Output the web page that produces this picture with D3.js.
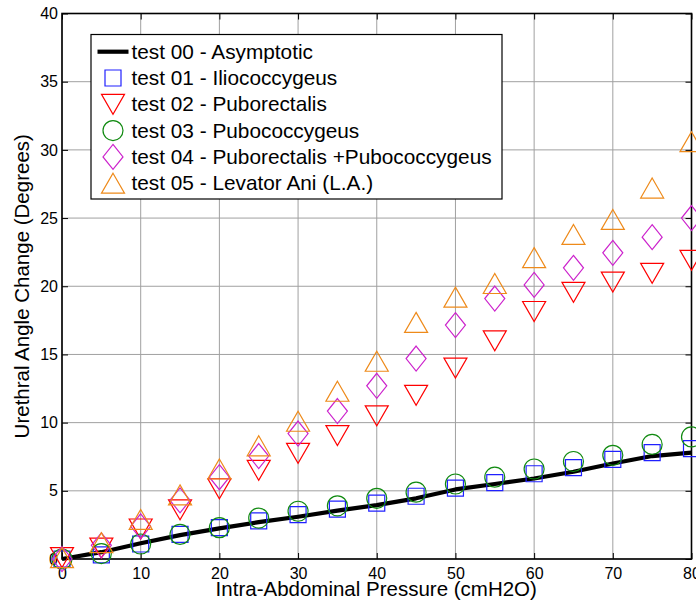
<!DOCTYPE html>
<html><head><meta charset="utf-8">
<script src="https://cdn.jsdelivr.net/npm/d3@7"></script>
<style>
body{margin:0;background:#fff}
svg{display:block}
text{font-family:"Liberation Sans",Arial,Helvetica,sans-serif;fill:#000}
</style>
</head><body>
<svg id="chart" width="696" height="604"></svg>
<script>
// ---- data ----
const pressure = [0,5,10,15,20,25,30,35,40,45,50,55,60,65,70,75,80];
const test00 = [0,0.5,1.15,1.75,2.25,2.7,3.1,3.55,3.95,4.45,5.1,5.5,5.9,6.4,7.0,7.55,7.8];
const test01 = [0,0.3,1.1,1.8,2.3,2.8,3.25,3.65,4.1,4.6,5.2,5.6,6.25,6.7,7.3,7.8,8.1];
const test02 = [0.1,0.8,2.2,3.6,5.15,6.5,7.75,9.05,10.5,12.0,14.0,16.0,18.15,19.55,20.3,20.95,21.9];
const test03 = [0,0.4,1.1,1.8,2.3,3.0,3.5,3.9,4.45,4.9,5.5,6.0,6.6,7.15,7.6,8.4,8.95];
const test04 = [0,1.0,2.4,4.3,6.0,7.55,9.2,10.85,12.7,14.7,17.15,19.1,20.1,21.35,22.45,23.6,25.0];
const test05 = [0.1,1.2,2.9,4.7,6.6,8.3,10.1,12.3,14.5,17.35,19.2,20.2,22.1,23.8,24.9,27.2,30.6];
const seriesNames = ["test 00 - Asymptotic","test 01 - Iliococcygeus","test 02 - Puborectalis",
  "test 03 - Pubococcygeus","test 04 - Puborectalis +Pubococcygeus","test 05 - Levator Ani (L.A.)"];
const seriesColors = ["#000000","#2020ff","#ff0000","#108a10","#cc22cc","#ee8a1a"];
const seriesMarkers = ["line","square","triangleDown","circle","diamond","triangleUp"];
const xTicks = [0,10,20,30,40,50,60,70,80];
const yTicks = [0,5,10,15,20,25,30,35,40];
const xLabel = "Intra-Abdominal Pressure (cmH2O)";
const yLabel = "Urethral Angle Change (Degrees)";

const seriesValues = [test00,test01,test02,test03,test04,test05];

// ---- layout ----
const svg = d3.select("#chart");
const L = 62, R = 691.5, T = 13.5, B = 559;
const x = d3.scaleLinear().domain([0,80]).range([L,R]);
const y = d3.scaleLinear().domain([0,40]).range([B,T]);

// grid
const grid = svg.append("g").attr("stroke","#a0a0a0").attr("stroke-width",1);
xTicks.forEach(t=>{ grid.append("line").attr("x1",x(t)).attr("x2",x(t)).attr("y1",T).attr("y2",B); });
yTicks.forEach(t=>{ grid.append("line").attr("x1",L).attr("x2",R).attr("y1",y(t)).attr("y2",y(t)); });

// axes via d3 (inward ticks)
const tick = 6;
svg.append("g").attr("transform",`translate(0,${B})`)
  .call(d3.axisBottom(x).tickValues(xTicks).tickSizeInner(-tick).tickSizeOuter(0).tickPadding(9))
  .call(g=>{g.select(".domain").remove(); g.selectAll("text").attr("font-size",16).attr("dy","0.71em");});
svg.append("g").attr("transform",`translate(0,${T})`)
  .call(d3.axisTop(x).tickValues(xTicks).tickSizeInner(-tick).tickSizeOuter(0))
  .call(g=>{g.select(".domain").remove(); g.selectAll("text").remove();});
svg.append("g").attr("transform",`translate(${L},0)`)
  .call(d3.axisLeft(y).tickValues(yTicks).tickSizeInner(-tick).tickSizeOuter(0).tickPadding(10))
  .call(g=>{g.select(".domain").remove(); g.selectAll("text").attr("font-size",16).attr("x",-4);});
svg.append("g").attr("transform",`translate(${R},0)`)
  .call(d3.axisRight(y).tickValues(yTicks).tickSizeInner(-tick).tickSizeOuter(0))
  .call(g=>{g.select(".domain").remove(); g.selectAll("text").remove();});
svg.selectAll(".tick line").attr("stroke","#000");

// box
svg.append("rect").attr("x",L).attr("y",T).attr("width",R-L).attr("height",B-T)
  .attr("fill","none").attr("stroke","#000").attr("stroke-width",1.6);

// marker shapes
function markerPath(type){
  const p = d3.path();
  if(type==="square"){ p.rect(-8,-8,16,16); }
  else if(type==="circle"){ p.arc(0,0,10,0,2*Math.PI); p.closePath(); }
  else if(type==="triangleDown"){ p.moveTo(-11.5,-10); p.lineTo(11.5,-10); p.lineTo(0,10); p.closePath(); }
  else if(type==="triangleUp"){ p.moveTo(0,-10); p.lineTo(11.5,10); p.lineTo(-11.5,10); p.closePath(); }
  else if(type==="diamond"){ p.moveTo(0,-12.5); p.lineTo(10,0); p.lineTo(0,12.5); p.lineTo(-10,0); p.closePath(); }
  return p.toString();
}

// series
seriesValues.forEach((vals,i)=>{
  const data = pressure.map((p,j)=>({p, v: vals[j]}));
  if(seriesMarkers[i]==="line"){
    svg.append("path").datum(data)
      .attr("d", d3.line().x(d=>x(d.p)).y(d=>y(d.v)))
      .attr("fill","none").attr("stroke",seriesColors[i]).attr("stroke-width",4.2)
      .attr("stroke-linejoin","round");
  } else {
    svg.append("g").selectAll("path").data(data).join("path")
      .attr("transform", d=>`translate(${x(d.p)},${y(d.v)})`)
      .attr("d", markerPath(seriesMarkers[i]))
      .attr("fill","none").attr("stroke",seriesColors[i]).attr("stroke-width",1.2);
  }
});

// axis labels
svg.append("text").attr("x",(L+R)/2 - 0.5).attr("y",595.5).attr("text-anchor","middle")
  .attr("font-size",20.5).text(xLabel);
svg.append("text").attr("transform",`translate(29,${(T+B)/2}) rotate(-90)`)
  .attr("text-anchor","middle").attr("font-size",20.5).text(yLabel);

// legend
const lg = svg.append("g");
lg.append("rect").attr("x",91).attr("y",34.5).attr("width",411).attr("height",164.5)
  .attr("fill","#fff").attr("stroke","#000").attr("stroke-width",1.2);
const rowY0 = 51.7, rowH = 26.3;
seriesNames.forEach((name,i)=>{
  const cy = rowY0 + i*rowH;
  if(seriesMarkers[i]==="line"){
    lg.append("line").attr("x1",97.5).attr("x2",128.5).attr("y1",cy).attr("y2",cy)
      .attr("stroke",seriesColors[i]).attr("stroke-width",4.2);
  } else {
    lg.append("path").attr("transform",`translate(113,${cy})`).attr("d",markerPath(seriesMarkers[i]))
      .attr("fill","none").attr("stroke",seriesColors[i]).attr("stroke-width",1.2);
  }
  lg.append("text").attr("x",131.5).attr("y",cy+7).attr("font-size",20.8).text(name);
});
</script>
</body></html>
